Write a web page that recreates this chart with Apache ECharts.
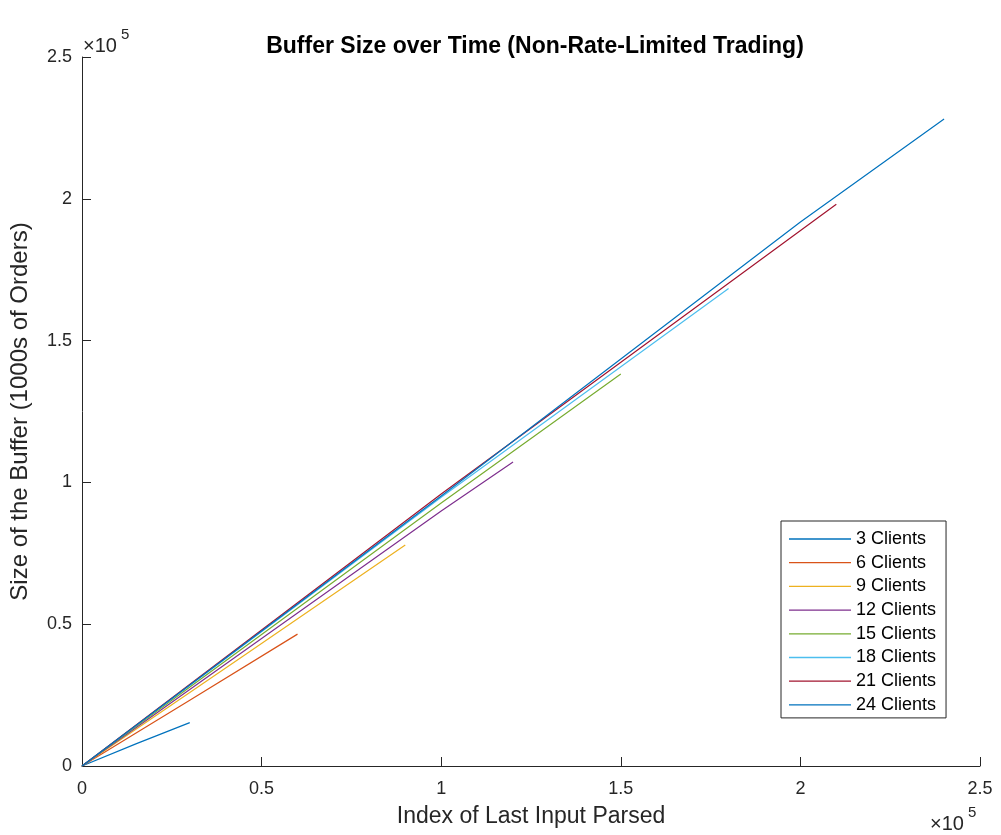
<!DOCTYPE html>
<html>
<head>
<meta charset="utf-8">
<script src="https://cdn.jsdelivr.net/npm/echarts@6/dist/echarts.min.js"></script>
<style>
html,body{margin:0;padding:0;background:#fff;}
#chart{width:1001px;height:835px;}
</style>
</head>
<body>
<div id="chart"></div>
<script>
const seriesNames = ['3 Clients','6 Clients','9 Clients','12 Clients','15 Clients','18 Clients','21 Clients','24 Clients'];
const colors = ['#0072BD','#D95319','#EDB120','#7E2F8E','#77AC30','#4DBEEE','#A2142F','#0072BD'];

const x3  = [0, 15000, 30000];
const y3  = [0, 7800, 15300];
const x6  = [0, 30000, 60000];
const y6  = [0, 23200, 46500];
const x9  = [0, 45000, 90000];
const y9  = [0, 38900, 77900];
const x12 = [0, 100000, 120000];
const y12 = [0, 89900, 107200];
const x15 = [0, 100000, 150000];
const y15 = [0, 92700, 138200];
const x18 = [0, 100000, 180000];
const y18 = [0, 94800, 168400];
const x21 = [0, 100000, 210000];
const y21 = [0, 95900, 198100];
const x24 = [0, 100000, 200000, 240000];
const y24 = [0, 95200, 191800, 228100];

const xs = [x3,x6,x9,x12,x15,x18,x21,x24];
const ys = [y3,y6,y9,y12,y15,y18,y21,y24];

const axisMin = 0, axisMax = 250000, axisStep = 50000, tickScale = 100000;

const FONT = "'Liberation Sans', Arial, Helvetica, sans-serif";
const TXT = '#262626';

const chart = echarts.init(document.getElementById('chart'), null, {renderer:'canvas'});

const series = seriesNames.map((name, i) => ({
  name: name,
  type: 'line',
  data: xs[i].map((x, j) => [x, ys[i][j]]),
  symbol: 'none',
  lineStyle: { color: colors[i], width: 1.2 },
  itemStyle: { color: colors[i] },
  animation: false,
  z: 2 + i
}));

const axisCommon = {
  type: 'value',
  min: axisMin, max: axisMax, interval: axisStep,
  axisLine: { show: true, lineStyle: { color: TXT, width: 1 } },
  axisTick: { show: true, inside: true, length: 9, lineStyle: { color: TXT, width: 1 } },
  splitLine: { show: false },
  axisLabel: {
    color: TXT, fontSize: 18, fontFamily: FONT,
    formatter: v => String(+(v / tickScale).toFixed(2))
  },
  nameLocation: 'middle',
  nameTextStyle: { color: TXT, fontSize: 23, fontFamily: FONT }
};

chart.setOption({
  backgroundColor: '#fff',
  animation: false,
  title: {
    text: 'Buffer Size over Time (Non-Rate-Limited Trading)',
    left: 530, top: 30, textAlign: 'center',
    textStyle: { color: '#000', fontSize: 23, fontWeight: 'bold', fontFamily: FONT }
  },
  grid: { left: 82, right: 21, top: 57, bottom: 69, containLabel: false },
  xAxis: Object.assign({}, axisCommon, {
    name: 'Index of Last Input Parsed', nameGap: 39,
    axisLabel: Object.assign({}, axisCommon.axisLabel, { margin: 14 })
  }),
  yAxis: Object.assign({}, axisCommon, {
    name: 'Size of the Buffer (1000s of Orders)', nameGap: 50,
    nameTextStyle: { color: TXT, fontSize: 24, fontFamily: FONT },
    axisLabel: Object.assign({}, axisCommon.axisLabel, { margin: 10 })
  }),
  legend: {
    orient: 'vertical',
    left: 781, top: 521,
    padding: [9, 10, 4, 8],
    icon: 'rect',
    itemWidth: 62, itemHeight: 1.3, itemGap: 5.7,
    backgroundColor: '#fff',
    borderColor: TXT, borderWidth: 1,
    textStyle: { color: '#000', fontSize: 18, fontFamily: FONT, lineHeight: 18 },
    data: seriesNames
  },
  graphic: [
    { type: 'text', left: 83, top: 36, style: { text: '×10', fill: TXT, fontSize: 20, fontFamily: FONT } },
    { type: 'text', left: 121, top: 27, style: { text: '5', fill: TXT, fontSize: 15, fontFamily: FONT } },
    { type: 'text', left: 930, top: 814, style: { text: '×10', fill: TXT, fontSize: 20, fontFamily: FONT } },
    { type: 'text', left: 968, top: 805, style: { text: '5', fill: TXT, fontSize: 15, fontFamily: FONT } }
  ],
  series: series
});
</script>
</body>
</html>
